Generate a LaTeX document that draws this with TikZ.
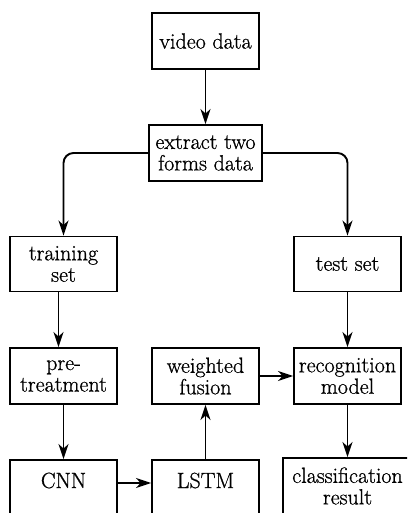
\documentclass[tikz,border=0pt]{standalone}
\usepackage{fontspec}
\newfontfamily\boxfont{Latin Modern Roman}[FakeBold=0.8]
\usetikzlibrary{arrows.meta}
\begin{document}
\begin{tikzpicture}[x=1pt,y=-1pt,
  box/.style={draw, line width=1.9pt, minimum width=107pt, minimum height=56pt, inner sep=0pt, align=center, font=\boxfont\fontsize{22}{21.5}\selectfont},
  conn/.style={line width=1.9pt, -{Stealth[length=15pt,width=10pt,inset=4.5pt]}},
  lowtext/.style={text height=13pt, text depth=13pt}]
\useasboundingbox (0,0) rectangle (407,513);
\clip (0,0) rectangle (407,513);
\node[box] (video) at (205.5,41) {video data};
\node[box, minimum width=113pt] (extract) at (205.5,153) {extract two\\forms data};
\node[box, minimum height=55pt] (training) at (63.5,264) {training\\set};
\node[box, minimum height=55pt] (test) at (347.5,264) {test set};
\node[box] (pre) at (63.5,376) {pre-\\treatment};
\node[box] (fusion) at (205.5,376) {weighted\\fusion};
\node[box] (recog) at (347.5,376) {recognition\\model};
\node[box, lowtext] (cnn) at (63.5,488) {CNN};
\node[box, lowtext] (lstm) at (205.5,488) {LSTM};
\node[box, minimum width=129pt] (class) at (347.5,486) {classification\\result};
\draw[conn] (video) -- (extract);
\draw[conn, rounded corners=10pt] (extract.west) -| (training.north);
\draw[conn, rounded corners=10pt] (extract.east) -| (test.north);
\draw[conn] ([xshift=-5pt]training.south) -- ([xshift=-5pt]pre.north);
\draw[conn] (pre) -- (cnn);
\draw[conn] ([yshift=5pt]cnn.east) -- ([yshift=5pt]lstm.west);
\draw[conn] (lstm) -- (fusion);
\draw[conn] (fusion) -- (recog);
\draw[conn] (test) -- (recog);
\draw[conn] (recog) -- (class);
\end{tikzpicture}
\end{document}
